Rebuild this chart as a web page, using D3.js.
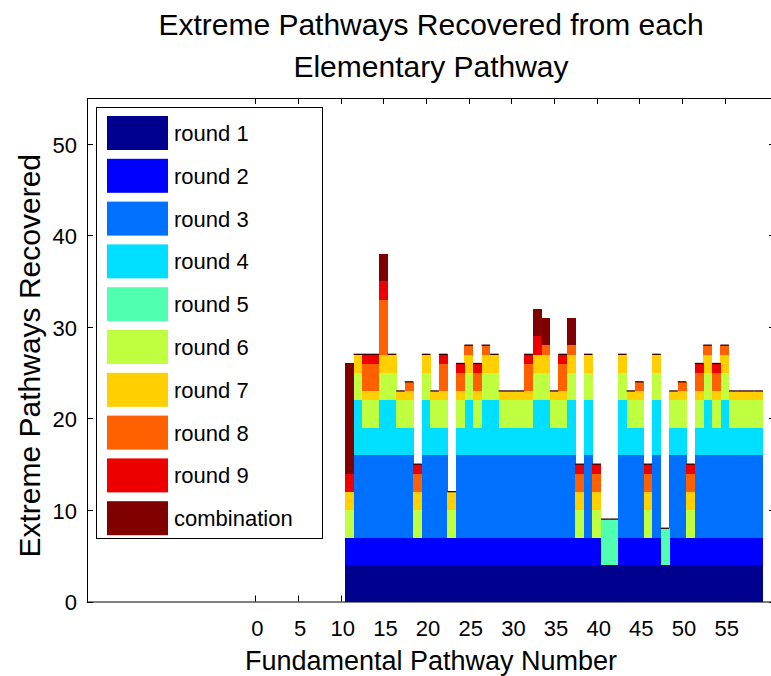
<!DOCTYPE html>
<html>
<head>
<meta charset="utf-8">
<script src="https://cdn.jsdelivr.net/npm/d3@7"></script>
<style>
  html, body { margin: 0; padding: 0; background: #fff; }
  svg { display: block; }
  text { font-family: "Liberation Sans", Arial, Helvetica, sans-serif; fill: #000; }
</style>
</head>
<body>
<svg id="chart" width="771" height="676"></svg>
<script>
// ---------------- data ----------------
const pathwayNumbers = [11,12,13,14,15,16,17,18,19,20,21,22,23,24,25,26,27,28,29,30,
  31,32,33,34,35,36,37,38,39,40,41,42,43,44,45,46,47,48,49,50,51,52,53,54,55,56,57,58,59];

const round1 = [4,4,4,4,4,4,4,4,4,4, 4,4,4,4,4,4,4,4,4,4, 4,4,4,4,4,4,4,4,4,4, 4,4,4,4,4,4,4,4,4,4, 4,4,4,4,4,4,4,4,4];
const round2 = [3,3,3,3,3,3,3,3,3,3, 3,3,3,3,3,3,3,3,3,3, 3,3,3,3,3,3,3,3,3,3, 0,0,3,3,3,3,3,0,3,3, 3,3,3,3,3,3,3,3,3];
const round3 = [0,9,9,9,9,9,9,9,0,9, 9,9,0,9,9,9,9,9,9,9, 9,9,9,9,9,9,9,0,9,0, 0,0,9,9,9,0,9,0,9,9, 0,9,9,9,9,9,9,9,9];
const round4 = [0,6,3,3,6,6,3,3,0,6, 3,3,0,3,6,3,6,6,3,3, 3,3,6,6,3,3,6,0,6,0, 0,0,6,3,3,0,6,0,3,3, 0,3,6,3,6,3,3,3,3];
const round5 = [0,0,0,0,0,0,0,0,0,0, 0,0,0,0,0,0,0,0,0,0, 0,0,0,0,0,0,0,0,0,0, 5,5,0,0,0,0,0,4,0,0, 0,0,0,0,0,0,0,0,0];
const round6 = [3,3,3,3,3,3,3,3,3,3, 3,3,3,3,3,3,3,3,3,3, 3,3,3,3,3,3,3,3,3,3, 0,0,3,3,3,3,3,0,3,3, 3,3,3,3,3,3,3,3,3];
const round7 = [2,2,1,1,2,2,1,1,2,2, 1,1,2,1,2,1,2,2,1,1, 1,1,2,2,1,1,2,2,2,2, 0,0,2,1,1,2,2,0,1,1, 2,1,2,1,2,1,1,1,1];
const round8 = [0,0,3,3,6,0,0,1,2,0, 0,3,0,2,1,2,1,0,0,0, 0,3,0,1,0,3,1,2,0,2, 0,0,0,0,1,2,0,0,0,1, 2,2,1,2,1,0,0,0,0];
const round9 = [2,0,1,1,2,0,0,0,1,0, 0,1,0,1,0,1,0,0,0,0, 0,1,2,0,0,1,0,1,0,1, 0,0,0,0,0,1,0,0,0,0, 1,1,0,1,0,0,0,0,0];
const combination = [12,0,0,0,3,0,0,0,0,0, 0,0,0,0,0,0,0,0,0,0, 0,0,3,3,0,0,3,0,0,0, 0,0,0,0,0,0,0,0,0,0, 0,0,0,0,0,0,0,0,0];

const seriesNames = ["round 1","round 2","round 3","round 4","round 5","round 6","round 7","round 8","round 9","combination"];
const seriesValues = [round1, round2, round3, round4, round5, round6, round7, round8, round9, combination];
const seriesColors = ["#00008F","#0000FF","#0070FF","#00DFFF","#50FFAF","#BFFF40","#FFCF00","#FF6000","#EF0000","#800000"];

const xTicks = [0,5,10,15,20,25,30,35,40,45,50,55];
const yTicks = [0,10,20,30,40,50];

const titleLines = ["Extreme Pathways Recovered from each", "Elementary Pathway"];
const xLabel = "Fundamental Pathway Number";
const yLabel = "Extreme Pathways Recovered";

// ---------------- layout ----------------
const svg = d3.select("#chart");
const plot = { left: 87, right: 775, top: 98, bottom: 601.5 };

const x = d3.scaleLinear().domain([-19.75, 60.9]).range([plot.left, plot.right]);
const y = d3.scaleLinear().domain([0, 55]).range([plot.bottom, plot.top]);

// table for stacking
const table = pathwayNumbers.map((p, i) => {
  const row = { p };
  seriesNames.forEach((n, k) => row[n] = seriesValues[k][i]);
  return row;
});
const stacked = d3.stack().keys(seriesNames)(table);

// axes box (drawn first, bars on top like MATLAB layer bottom)
const axisG = svg.append("g");
axisG.append("rect")
  .attr("x", plot.left + 0.5).attr("y", plot.top + 0.5)
  .attr("width", plot.right - plot.left).attr("height", plot.bottom - plot.top)
  .attr("fill", "none").attr("stroke", "#000").attr("stroke-width", 1);

const tickLen = 6;
axisG.selectAll(".xtb").data(xTicks).enter().append("line")
  .attr("x1", d => Math.round(x(d)) + 0.5).attr("x2", d => Math.round(x(d)) + 0.5)
  .attr("y1", plot.bottom).attr("y2", plot.bottom - tickLen)
  .attr("stroke", "#000");
axisG.selectAll(".xtt").data(xTicks).enter().append("line")
  .attr("x1", d => Math.round(x(d)) + 0.5).attr("x2", d => Math.round(x(d)) + 0.5)
  .attr("y1", plot.top).attr("y2", plot.top + tickLen)
  .attr("stroke", "#000");
axisG.selectAll(".ytl").data(yTicks).enter().append("line")
  .attr("x1", plot.left).attr("x2", plot.left + tickLen)
  .attr("y1", d => Math.round(y(d)) + 0.5).attr("y2", d => Math.round(y(d)) + 0.5)
  .attr("stroke", "#000");
axisG.selectAll(".ytr").data(yTicks).enter().append("line")
  .attr("x1", plot.right).attr("x2", plot.right - tickLen)
  .attr("y1", d => Math.round(y(d)) + 0.5).attr("y2", d => Math.round(y(d)) + 0.5)
  .attr("stroke", "#000");

// bars
const barG = svg.append("g");
stacked.forEach((layer, k) => {
  barG.append("g").attr("fill", seriesColors[k])
    .selectAll("rect").data(layer.filter(d => d[1] > d[0])).enter().append("rect")
    .attr("x", d => x(d.data.p - 0.5))
    .attr("width", d => x(d.data.p + 0.5) - x(d.data.p - 0.5) + 0.3)
    .attr("y", d => y(d[1]))
    .attr("height", d => y(d[0]) - y(d[1]) + 0.3)
    .attr("shape-rendering", "crispEdges");
});
// zero-height top segments render as thin dark lines
const topLayer = stacked[stacked.length - 1];
barG.selectAll(".topline").data(topLayer.filter(d => d[1] === d[0])).enter().append("line")
  .attr("x1", d => x(d.data.p - 0.5)).attr("x2", d => x(d.data.p + 0.5))
  .attr("y1", d => y(d[1])).attr("y2", d => y(d[1]))
  .attr("stroke", "#3a0000").attr("stroke-width", 1.3);

// tick labels
const labG = svg.append("g").attr("font-size", 22);
labG.selectAll(".xl").data(xTicks).enter().append("text")
  .attr("x", d => x(d) + 2).attr("y", 636)
  .attr("text-anchor", "middle").text(d => d);
labG.selectAll(".yl").data(yTicks).enter().append("text")
  .attr("x", 77).attr("y", d => y(d) + 1).attr("dy", "0.36em")
  .attr("text-anchor", "end").text(d => d);

// axis titles
svg.append("text").attr("x", (plot.left + plot.right) / 2).attr("y", 670)
  .attr("text-anchor", "middle").attr("font-size", 27).text(xLabel);
svg.append("text")
  .attr("transform", `translate(40, ${(plot.top + plot.bottom) / 2 + 6}) rotate(-90)`)
  .attr("text-anchor", "middle").attr("font-size", 30).text(yLabel);

// title
svg.selectAll(".title").data(titleLines).enter().append("text")
  .attr("x", 431).attr("y", (d, i) => 35 + i * 42)
  .attr("text-anchor", "middle").attr("font-size", 30).text(d => d);

// legend
const leg = { x: 96, y: 107, w: 226, h: 431, rowTop: 133, rowStep: 42.8 };
const legG = svg.append("g");
legG.append("rect").attr("x", leg.x + 0.5).attr("y", leg.y + 0.5)
  .attr("width", leg.w).attr("height", leg.h)
  .attr("fill", "#fff").attr("stroke", "#000");
const rows = legG.selectAll(".row").data(seriesNames).enter().append("g")
  .attr("transform", (d, i) => `translate(0, ${leg.rowTop + i * leg.rowStep})`);
rows.append("rect").attr("x", 107).attr("y", -17).attr("width", 61).attr("height", 34)
  .attr("fill", (d, i) => seriesColors[i]);
rows.append("text").attr("x", 174).attr("y", 0).attr("dy", "0.36em")
  .attr("font-size", 22).text(d => d);
</script>
</body>
</html>
